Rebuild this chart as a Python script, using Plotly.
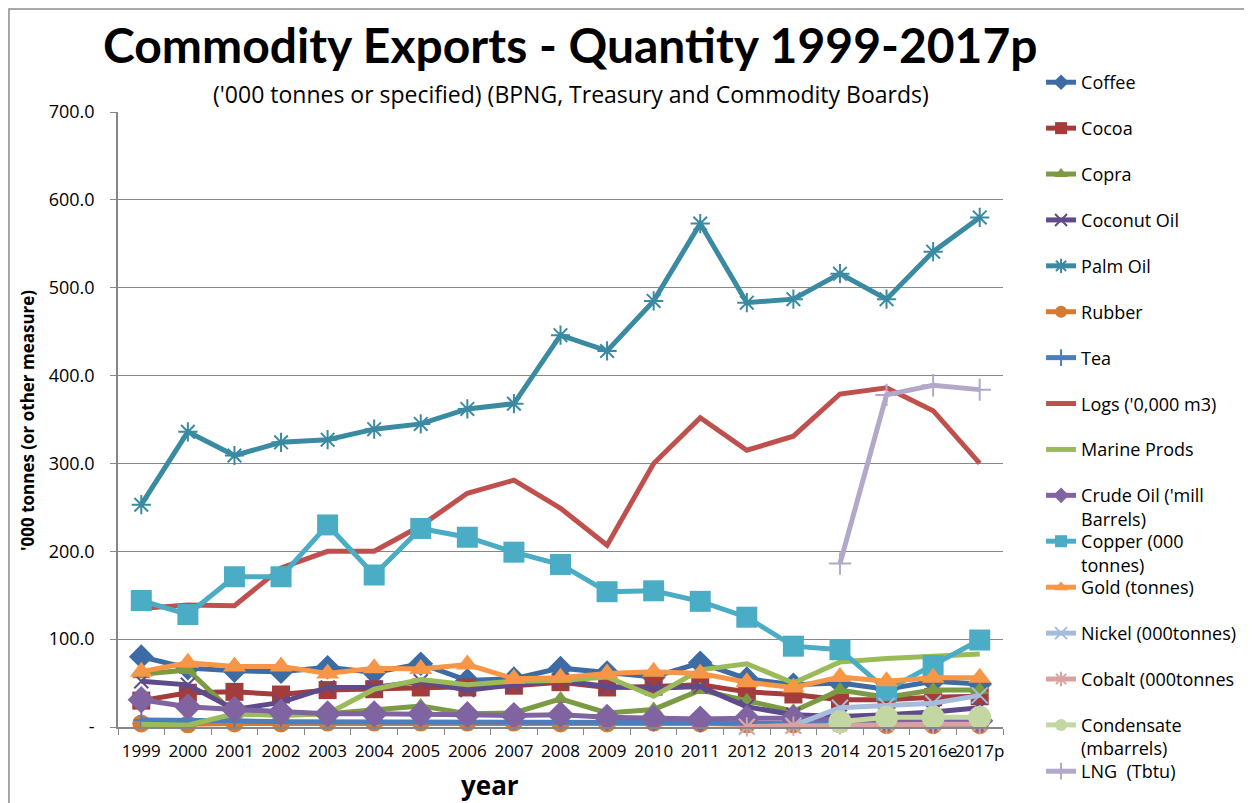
#Commodity exports quantity chart (plotly recreation)

import plotly.graph_objects as go

#data
years = ["1999", "2000", "2001", "2002", "2003", "2004", "2005", "2006", "2007", "2008",
         "2009", "2010", "2011", "2012", "2013", "2014", "2015", "2016e", "2017p"]

coffee = [80, 67, 64, 63, 68, 62, 72, 53, 55, 67, 62, 57, 73, 55, 48, 50, 43, 52, 49]
cocoa = [30, 39, 40, 37, 42, 43, 45, 45, 47, 51, 45, 46, 48, 40, 37, 31, 31, 34, 35]
copra = [60, 65, 15, 14, 15, 20, 24, 15, 16, 32, 16, 20, 42, 30, 18, 42, 34, 42, 42]
coconut_oil = [52, 48, 20, 28, 45, 45, 52, 42, 48, 53, 46, 44, 46, 23, 14, 12, 14, 17, 22]
palm_oil = [253, 336, 309, 324, 327, 339, 345, 362, 368, 446, 428, 485, 573, 483, 487, 516, 487, 541, 580]
rubber = [4, 3, 4, 4, 5, 5, 5, 5, 5, 4, 4, 5, 4, 3, 3, 3, 2, 2, 2]
tea = [8, 8, 7, 6, 6, 6, 6, 5, 5, 5, 5, 5, 5, 4, 4, 3, 3, 3, 3]
logs = [135, 139, 138, 181, 200, 200, 229, 266, 281, 249, 207, 300, 352, 315, 331, 379, 386, 360, 300]
marine = [3, 2, 15, 13, 15, 43, 54, 48, 52, 53, 57, 35, 65, 72, 50, 74, 78, 80, 83]
crude_oil = [31, 23, 20, 17, 15, 15, 15, 14, 13, 14, 11, 10, 9, 10, 10, 8, 8, 7, 7]
copper = [144, 128, 171, 171, 230, 173, 226, 216, 199, 185, 154, 155, 143, 125, 92, 88, 42, 70, 99]
gold = [63, 73, 69, 69, 61, 67, 66, 71, 55, 56, 61, 63, 61, 51, 45, 57, 52, 56, 56]
nickel = [None] * 13 + [0.3, 1.5, 22, 24, 27, 36]
cobalt = [None] * 13 + [0.2, 1, 2.5, 3, 3, 3]
condensate = [None] * 15 + [6, 11, 11, 11]
lng = [None] * 15 + [186, 378, 389, 384]

y_ticks = [0, 100, 200, 300, 400, 500, 600, 700]
y_ticktext = ["-", "100.0", "200.0", "300.0", "400.0", "500.0", "600.0", "700.0"]

#series: name, values, colour, marker symbol, marker size, legend box
series = [
    ("Coffee", coffee, "#3d6ca5", "diamond", 19, "legend"),
    ("Cocoa", cocoa, "#a33c3a", "square", 18, "legend"),
    ("Copra", copra, "#7b9a43", "triangle-up", 16, "legend"),
    ("Coconut Oil", coconut_oil, "#5f4a8b", "x-thin-open", 14, "legend"),
    ("Palm Oil", palm_oil, "#3a8ba2", "asterisk-open", 16, "legend"),
    ("Rubber", rubber, "#d57a33", "circle", 18, "legend"),
    ("Tea", tea, "#4a7ebf", "cross-thin-open", 11, "legend"),
    ("Logs ('0,000 m3)", logs, "#c0504d", None, 0, "legend"),
    ("Marine Prods", marine, "#9bbb59", None, 0, "legend"),
    ("Crude Oil ('mill<br>Barrels)", crude_oil, "#8064a2", "diamond", 21, "legend"),
    ("Copper (000<br>tonnes)", copper, "#4bacc6", "square", 21, "legend2"),
    ("Gold (tonnes)", gold, "#f79646", "triangle-up", 20, "legend3"),
    ("Nickel (000tonnes)", nickel, "#a7bbdc", "x-thin-open", 16, "legend3"),
    ("Cobalt (000tonnes", cobalt, "#d9a2a1", "asterisk-open", 16, "legend3"),
    ("Condensate<br>(mbarrels)", condensate, "#c3d7a2", "circle", 23, "legend3"),
    ("LNG  (Tbtu)", lng, "#b3a8c9", "cross-thin-open", 16, "legend4"),
]

FONT = "Open Sans, Liberation Sans, sans-serif"
TITLE_FONT = "Lato, Open Sans, sans-serif"

fig = go.Figure()

for i, (name, vals, col, sym, size, leg) in enumerate(series):
    if sym is None:
        mode = "lines"
        marker = dict()
    else:
        mode = "lines+markers"
        open_sym = sym.endswith("open")
        marker = dict(symbol=sym, size=size, color=col,
                      line=dict(color=col, width=2 if open_sym else 0))
    fig.add_trace(go.Scatter(
        x=years, y=vals, name=name, mode=mode,
        line=dict(color=col, width=5),
        marker=marker,
        legend=leg,
        legendgroup=f"g{i}",
        cliponaxis=False,
        connectgaps=False))

#titles
def note(text, x, y, size, family=FONT, angle=0):
    fig.add_annotation(text=text, xref="paper", yref="paper", x=x, y=y,
                       xanchor="center", yanchor="middle", textangle=angle,
                       showarrow=False, font=dict(family=family, size=size, color="black"))

note("<b>Commodity Exports - Quantity 1999-2017p</b>", 0.511, 1.109, 48, TITLE_FONT)
note("('000 tonnes or specified) (BPNG, Treasury and Commodity Boards)", 0.512, 1.029, 23)
note("<b>'000 tonnes (or other measure)</b>", -0.103, 0.499, 17, angle=-90)
note("<b>year</b>", 0.42, -0.094, 26)

#outer frame (right / bottom edges fall outside the window, as in the source)
fig.add_shape(type="rect", xref="paper", yref="paper",
              x0=-0.1232, x1=1.33, y0=-0.25, y1=1.1675,
              line=dict(color="#8c8c8c", width=1.5), fillcolor="rgba(0,0,0,0)")

#axes
fig.update_xaxes(type="category", range=[-0.5, 18.5], tickangle=0,
                 tickson="boundaries", ticks="outside", ticklen=6, tickcolor="#868686",
                 showline=True, linecolor="#868686", linewidth=1.5,
                 showgrid=False, ticklabelstandoff=8,
                 tickfont=dict(family=FONT, size=17, color="black"))
fig.update_yaxes(range=[0, 700], tickvals=y_ticks, ticktext=y_ticktext,
                 ticks="outside", ticklen=6, tickcolor="#868686",
                 showline=True, linecolor="#868686", linewidth=1.5,
                 showgrid=True, gridcolor="#868686", gridwidth=1.3, zeroline=False,
                 ticklabelstandoff=12, tickfont=dict(family=FONT, size=18, color="black"))

leg_style = dict(x=1.043, xanchor="left", yanchor="top", tracegroupgap=19.5,
                 valign="top", itemsizing="constant", maxheight=900,
                 font=dict(family=FONT, size=18, color="black"),
                 bgcolor="rgba(0,0,0,0)")

#page has an 8px body margin; figure is a little larger than the window so
#nothing pushes the margins
fig.update_layout(
    width=1300, height=830,
    margin=dict(l=110, r=305, t=104, b=111),
    plot_bgcolor="white", paper_bgcolor="white",
    legend=dict(y=1.078, **leg_style),
    legend2=dict(y=0.3317, **leg_style),
    legend3=dict(y=0.2569, **leg_style),
    legend4=dict(y=-0.0423, **leg_style),
)

fig.write_html("out.html")
